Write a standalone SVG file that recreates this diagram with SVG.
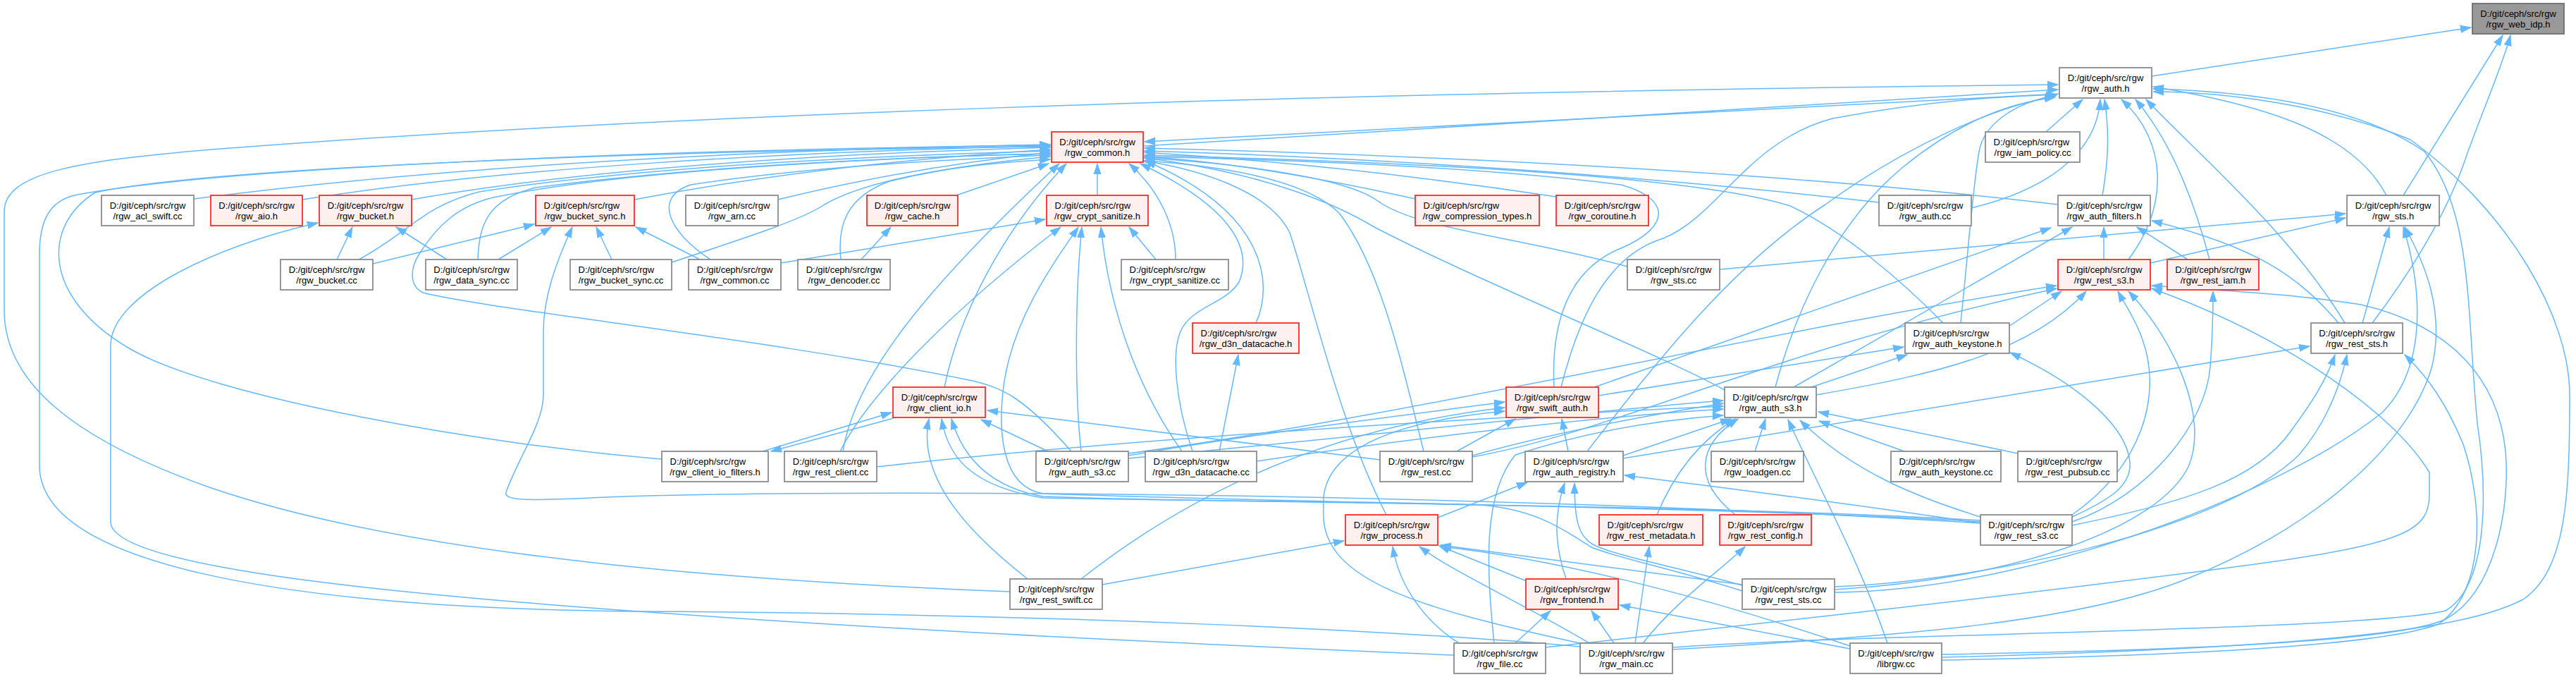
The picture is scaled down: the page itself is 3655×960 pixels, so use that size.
<svg xmlns="http://www.w3.org/2000/svg" width="3655" height="960" viewBox="0 0 3655 960">
<style>
.e{fill:none;stroke:#63b8ff;stroke-width:1.5;marker-end:url(#ah)}
.n rect{fill:#fff;stroke:#8c8c8c;stroke-width:1.8}
.r rect{fill:#fff0f0;stroke:#ff2a2a;stroke-width:1.8}
.g rect{fill:#999;stroke:#6e6e6e;stroke-width:1.8}
text{font-family:"Liberation Sans",Arial,Helvetica,sans-serif;font-size:13px;fill:#000}
.m{text-anchor:middle}
</style>
<defs>
<marker id="ah" markerUnits="userSpaceOnUse" markerWidth="16" markerHeight="12" refX="15" refY="6" orient="auto">
<path d="M0,1 L15,6 L0,11 z" fill="#63b8ff" stroke="#63b8ff" stroke-width="1"/>
</marker>
</defs>
<rect x="0" y="0" width="3655" height="960" fill="#fff"/>
<g id="edges">
<path class="e" d="M3053,108 L3506,39"/>
<path class="e" d="M3410,277 L3551,50"/>
<path class="e" d="M3366,458 C3440,360 3480,280 3500,220 C3525,150 3550,95 3562,50"/>
<path class="e" d="M1623,207 L2920,127"/>
<path class="e" d="M2922,133 L1624,201"/>
<path class="e" d="M2903,187 L2955,141"/>
<path class="e" d="M2797,295 C2900,270 2975,220 2980,141"/>
<path class="e" d="M2666,287 C2300,245 1900,222 1624,214"/>
<path class="e" d="M2983,277 C2993,220 2992,180 2986,141"/>
<path class="e" d="M2920,290 C2500,240 1950,218 1624,210"/>
<path class="e" d="M3386,277 C3340,190 3220,150 3055,123"/>
<path class="e" d="M3020,368 C3078,290 3075,200 3010,141"/>
<path class="e" d="M2985,368 L2985,322"/>
<path class="e" d="M3051,373 L3328,309"/>
<path class="e" d="M3135,368 C3112,280 3080,200 3030,141"/>
<path class="e" d="M3104,368 L3032,322"/>
<path class="e" d="M275,282 C600,240 1000,214 1490,205"/>
<path class="e" d="M429,283 C700,240 1100,215 1490,207"/>
<path class="e" d="M584,283 C800,245 1100,220 1490,209"/>
<path class="e" d="M900,283 C1100,245 1300,224 1490,212"/>
<path class="e" d="M1104,283 C1250,247 1380,228 1490,216"/>
<path class="e" d="M1357,277 L1488,232"/>
<path class="e" d="M1557,277 L1557,232"/>
<path class="e" d="M2008,282 C1850,247 1720,228 1624,222"/>
<path class="e" d="M2208,279 C1950,240 1750,224 1624,216"/>
<path class="e" d="M478,368 L500,322"/>
<path class="e" d="M529,374 L758,318"/>
<path class="e" d="M509,368 C580,330 600,292 680,272 C900,238 1200,222 1490,214"/>
<path class="e" d="M634,368 L562,322"/>
<path class="e" d="M707,368 L782,322"/>
<path class="e" d="M678,368 C680,320 690,283 760,266 C1000,234 1300,222 1490,218"/>
<path class="e" d="M868,368 L846,322"/>
<path class="e" d="M953,372 C1080,330 1140,310 1170,290 C1230,255 1350,235 1490,222"/>
<path class="e" d="M1008,368 C950,330 925,280 980,262 C1150,236 1350,226 1490,220"/>
<path class="e" d="M993,368 L902,322"/>
<path class="e" d="M1108,373 L1483,311"/>
<path class="e" d="M1222,368 L1264,322"/>
<path class="e" d="M1193,368 C1188,320 1200,280 1262,257 C1350,236 1420,230 1490,226"/>
<path class="e" d="M1640,368 L1602,322"/>
<path class="e" d="M1668,368 C1668,320 1645,270 1602,232"/>
<path class="e" d="M2440,382 L3328,303"/>
<path class="e" d="M2309,378 C2150,335 2010,325 1955,285 C1910,252 1760,232 1624,224"/>
<path class="e" d="M1782,458 C1808,400 1795,300 1625,228"/>
<path class="e" d="M2782,458 C2795,330 2800,260 2808,215 C2815,175 2860,145 2918,135"/>
<path class="e" d="M2850,463 L2925,413"/>
<path class="e" d="M2757,458 C2700,400 2620,330 2540,292 C2400,248 2000,230 1624,220"/>
<path class="e" d="M3327,458 C3250,330 3120,220 3045,141"/>
<path class="e" d="M3318,458 C3260,390 3200,350 3053,313"/>
<path class="e" d="M3352,458 L3390,322"/>
<path class="e" d="M1340,549 C1360,450 1420,330 1513,232"/>
<path class="e" d="M1082,640 L1265,585"/>
<path class="e" d="M1268,593 L1094,640"/>
<path class="e" d="M939,651 C700,632 300,565 180,492 C60,420 60,320 135,273 C300,238 900,214 1490,208"/>
<path class="e" d="M1196,640 C1212,540 1300,420 1503,232"/>
<path class="e" d="M1192,640 C1232,560 1350,440 1505,322"/>
<path class="e" d="M1244,662 C1600,622 2100,592 2445,576"/>
<path class="e" d="M1520,640 C1450,560 1420,550 1380,540 C1100,482 700,440 600,415 C580,405 582,380 595,360 C620,320 650,292 700,280 C900,238 1300,222 1490,218"/>
<path class="e" d="M1534,640 C1525,560 1525,420 1535,322"/>
<path class="e" d="M1487,640 L1392,595"/>
<path class="e" d="M1601,650 C1900,622 2200,588 2445,568"/>
<path class="e" d="M1601,643 C2000,590 2500,470 2918,405"/>
<path class="e" d="M1601,646 C1800,612 2000,588 2135,570"/>
<path class="e" d="M1730,640 L1757,503"/>
<path class="e" d="M1677,640 C1620,560 1575,450 1562,322"/>
<path class="e" d="M1692,640 C1668,570 1662,500 1675,470 C1690,435 1740,430 1758,400 C1775,360 1760,300 1618,232"/>
<path class="e" d="M1783,654 C2000,622 2250,592 2445,580"/>
<path class="e" d="M2205,549 C2200,450 2230,380 2300,352 C2370,322 2372,282 2300,262 C2100,236 1800,226 1624,222"/>
<path class="e" d="M2215,549 C2240,450 2280,362 2360,338 C2440,305 2480,200 2600,168 C2750,140 2850,137 2918,134"/>
<path class="e" d="M2268,561 L2701,492"/>
<path class="e" d="M2262,549 L2910,323"/>
<path class="e" d="M2067,640 L2150,594"/>
<path class="e" d="M2225,640 L2216,594"/>
<path class="e" d="M2252,640 C2330,540 2450,380 2590,290 C2700,210 2830,150 2916,137"/>
<path class="e" d="M2303,650 L3277,491"/>
<path class="e" d="M2246,913 C2000,860 1870,820 1878,720 C1872,650 1950,600 2135,583"/>
<path class="e" d="M1534,821 C1700,690 1900,605 2135,578"/>
<path class="e" d="M2447,553 C2350,500 2100,400 1950,322 C1900,292 1800,246 1624,224"/>
<path class="e" d="M2519,549 C2545,450 2600,320 2700,237 C2780,172 2850,146 2916,138"/>
<path class="e" d="M2545,549 L2940,322"/>
<path class="e" d="M2570,549 L2706,503"/>
<path class="e" d="M2577,560 C2750,530 2880,500 2960,413"/>
<path class="e" d="M2490,640 L2505,594"/>
<path class="e" d="M2351,730 C2380,660 2420,620 2462,594"/>
<path class="e" d="M2462,730 C2400,680 2410,630 2466,594"/>
<path class="e" d="M2303,646 L2456,594"/>
<path class="e" d="M2702,640 L2581,597"/>
<path class="e" d="M2863,643 L2580,584"/>
<path class="e" d="M2810,733 C2720,705 2630,670 2554,596"/>
<path class="e" d="M2678,912 C2640,800 2585,700 2537,595"/>
<path class="e" d="M1967,730 C1900,600 1860,420 1830,330 C1800,270 1700,240 1622,228"/>
<path class="e" d="M2040,734 L2167,684"/>
<path class="e" d="M2020,640 C1990,520 1960,380 1900,302 C1850,252 1720,234 1622,228"/>
<path class="e" d="M1958,652 L1401,582"/>
<path class="e" d="M2089,646 C2200,615 2330,590 2445,572"/>
<path class="e" d="M2089,648 C2300,610 2500,500 2918,409"/>
<path class="e" d="M2166,824 L2042,774"/>
<path class="e" d="M2222,821 C2205,770 2205,730 2220,685"/>
<path class="e" d="M2150,912 L2200,866"/>
<path class="e" d="M2290,912 L2258,866"/>
<path class="e" d="M2070,912 C2020,880 1985,830 1976,775"/>
<path class="e" d="M2255,912 C2150,850 2060,810 2014,775"/>
<path class="e" d="M2472,829 L2044,773"/>
<path class="e" d="M2625,916 C2400,840 2200,792 2044,775"/>
<path class="e" d="M2625,920 L2298,858"/>
<path class="e" d="M2472,830 C2380,804 2290,788 2260,772 C2240,760 2234,740 2234,685"/>
<path class="e" d="M2810,742 C2650,718 2450,692 2305,674"/>
<path class="e" d="M2320,912 L2340,775"/>
<path class="e" d="M2331,912 C2380,850 2440,810 2476,775"/>
<path class="e" d="M2120,912 C2108,800 2105,700 2150,645 C2250,612 2350,596 2445,589"/>
<path class="e" d="M2063,929 C1500,905 1200,888 920,868 C500,838 157,800 157,740 L157,490 C157,420 300,350 451,316"/>
<path class="e" d="M2242,917 C2000,895 1500,870 900,867 C400,862 56,800 56,660 L56,360 C56,300 80,282 110,276 C300,240 900,212 1490,206"/>
<path class="e" d="M1433,839 C1100,826 600,795 300,692 C100,622 6,540 6,440 L6,300 C6,245 110,228 300,212 C900,165 1800,132 2920,120"/>
<path class="e" d="M1458,821 C1380,760 1300,680 1318,594"/>
<path class="e" d="M1564,829 L1907,767"/>
<path class="e" d="M2810,742 C2500,722 2000,704 1500,700 C1200,698 1000,701 920,703 C800,706 712,716 718,698 C735,650 771,600 771,560 L771,470 C771,420 790,370 812,322"/>
<path class="e" d="M2810,738 C2500,718 1800,712 1480,706 C1380,690 1345,650 1336,594"/>
<path class="e" d="M2810,740 C2500,720 1800,712 1480,700 C1420,690 1415,610 1425,540 C1440,450 1490,380 1530,322"/>
<path class="e" d="M2940,733 C2990,710 3025,690 3022,655 C3018,610 2960,550 2852,500"/>
<path class="e" d="M2940,730 C3040,660 3068,560 3040,482 C3030,452 3015,432 3005,413"/>
<path class="e" d="M2940,740 C3050,702 3130,600 3136,520 C3140,470 3140,440 3140,413"/>
<path class="e" d="M2940,745 C3100,712 3200,682 3250,612 C3282,568 3300,540 3313,503"/>
<path class="e" d="M2603,832 C2800,825 3150,755 3262,645 C3300,600 3320,550 3330,503"/>
<path class="e" d="M2603,840 C2900,836 3250,690 3380,585 C3440,525 3440,420 3410,322"/>
<path class="e" d="M2603,836 C2850,822 3060,752 3105,662 C3135,592 3085,482 3020,413"/>
<path class="e" d="M2472,838 C2380,808 2290,790 2258,776 C2220,752 2180,722 2100,716 C1900,710 1700,712 1480,704 C1400,690 1365,645 1350,594"/>
<path class="e" d="M2755,932 C3300,918 3500,892 3580,850 C3642,808 3646,700 3646,560 C3646,450 3560,300 3420,198 C3300,148 3150,130 3055,130"/>
<path class="e" d="M2373,918 C2650,898 3350,895 3470,866 C3530,830 3530,700 3515,600 C3500,450 3510,300 3440,215 C3350,152 3200,130 3055,126"/>
<path class="e" d="M2755,928 C3100,922 3400,910 3470,878 C3540,840 3562,720 3555,640 C3545,540 3480,462 3350,432 C3250,416 3150,412 3053,405"/>
<path class="e" d="M2755,936 C3100,930 3380,915 3460,885 C3525,840 3525,720 3495,630 C3470,570 3445,535 3412,503"/>
<path class="e" d="M2373,921 C2700,902 2950,882 3100,822 C3300,742 3420,622 3450,522 C3470,442 3440,372 3412,322"/>
<path class="e" d="M2193,918 C2500,884 2900,840 3200,800 C3420,770 3447,750 3447,700 L3447,670 C3400,590 3250,480 3053,409"/>
</g>
<g id="rgw_web_idp_h" class="g"><rect x="3508" y="5" width="130" height="43"/><text x="3573" y="23.5" class="m">D:/git/ceph/src/rgw</text><text x="3573" y="38.5" class="m">/rgw_web_idp.h</text></g>
<g id="rgw_auth_h" class="n"><rect x="2922" y="96" width="131" height="43"/><text x="2987.5" y="114.5" class="m">D:/git/ceph/src/rgw</text><text x="2987.5" y="129.5" class="m">/rgw_auth.h</text></g>
<g id="rgw_common_h" class="r"><rect x="1492" y="187" width="130" height="43"/><text x="1557" y="205.5" class="m">D:/git/ceph/src/rgw</text><text x="1557" y="220.5" class="m">/rgw_common.h</text></g>
<g id="rgw_iam_policy_cc" class="n"><rect x="2817" y="187" width="134" height="43"/><text x="2828.5" y="205.5">D:/git/ceph/src/rgw</text><text x="2884" y="220.5" class="m">/rgw_iam_policy.cc</text></g>
<g id="rgw_acl_swift_cc" class="n"><rect x="144" y="277" width="131" height="43"/><text x="209.5" y="295.5" class="m">D:/git/ceph/src/rgw</text><text x="209.5" y="310.5" class="m">/rgw_acl_swift.cc</text></g>
<g id="rgw_aio_h" class="r"><rect x="299" y="277" width="130" height="43"/><text x="364" y="295.5" class="m">D:/git/ceph/src/rgw</text><text x="364" y="310.5" class="m">/rgw_aio.h</text></g>
<g id="rgw_bucket_h" class="r"><rect x="453" y="277" width="131" height="43"/><text x="518.5" y="295.5" class="m">D:/git/ceph/src/rgw</text><text x="518.5" y="310.5" class="m">/rgw_bucket.h</text></g>
<g id="rgw_bucket_sync_h" class="r"><rect x="760" y="277" width="140" height="43"/><text x="771.5" y="295.5">D:/git/ceph/src/rgw</text><text x="830" y="310.5" class="m">/rgw_bucket_sync.h</text></g>
<g id="rgw_arn_cc" class="n"><rect x="973" y="277" width="131" height="43"/><text x="1038.5" y="295.5" class="m">D:/git/ceph/src/rgw</text><text x="1038.5" y="310.5" class="m">/rgw_arn.cc</text></g>
<g id="rgw_cache_h" class="r"><rect x="1230" y="277" width="129" height="43"/><text x="1294.5" y="295.5" class="m">D:/git/ceph/src/rgw</text><text x="1294.5" y="310.5" class="m">/rgw_cache.h</text></g>
<g id="rgw_crypt_sanitize_h" class="r"><rect x="1485" y="277" width="144" height="43"/><text x="1496.5" y="295.5">D:/git/ceph/src/rgw</text><text x="1557" y="310.5" class="m">/rgw_crypt_sanitize.h</text></g>
<g id="rgw_compression_types_h" class="r"><rect x="2008" y="277" width="176" height="43"/><text x="2019.5" y="295.5">D:/git/ceph/src/rgw</text><text x="2096" y="310.5" class="m">/rgw_compression_types.h</text></g>
<g id="rgw_coroutine_h" class="r"><rect x="2208" y="277" width="131" height="43"/><text x="2273.5" y="295.5" class="m">D:/git/ceph/src/rgw</text><text x="2273.5" y="310.5" class="m">/rgw_coroutine.h</text></g>
<g id="rgw_auth_cc" class="n"><rect x="2666" y="277" width="131" height="43"/><text x="2731.5" y="295.5" class="m">D:/git/ceph/src/rgw</text><text x="2731.5" y="310.5" class="m">/rgw_auth.cc</text></g>
<g id="rgw_auth_filters_h" class="n"><rect x="2920" y="277" width="131" height="43"/><text x="2985.5" y="295.5" class="m">D:/git/ceph/src/rgw</text><text x="2985.5" y="310.5" class="m">/rgw_auth_filters.h</text></g>
<g id="rgw_sts_h" class="n"><rect x="3330" y="277" width="131" height="43"/><text x="3395.5" y="295.5" class="m">D:/git/ceph/src/rgw</text><text x="3395.5" y="310.5" class="m">/rgw_sts.h</text></g>
<g id="rgw_bucket_cc" class="n"><rect x="398" y="368" width="131" height="43"/><text x="463.5" y="386.5" class="m">D:/git/ceph/src/rgw</text><text x="463.5" y="401.5" class="m">/rgw_bucket.cc</text></g>
<g id="rgw_data_sync_cc" class="n"><rect x="604" y="368" width="130" height="43"/><text x="669" y="386.5" class="m">D:/git/ceph/src/rgw</text><text x="669" y="401.5" class="m">/rgw_data_sync.cc</text></g>
<g id="rgw_bucket_sync_cc" class="n"><rect x="809" y="368" width="144" height="43"/><text x="820.5" y="386.5">D:/git/ceph/src/rgw</text><text x="881" y="401.5" class="m">/rgw_bucket_sync.cc</text></g>
<g id="rgw_common_cc" class="n"><rect x="977" y="368" width="131" height="43"/><text x="1042.5" y="386.5" class="m">D:/git/ceph/src/rgw</text><text x="1042.5" y="401.5" class="m">/rgw_common.cc</text></g>
<g id="rgw_dencoder_cc" class="n"><rect x="1132" y="368" width="131" height="43"/><text x="1197.5" y="386.5" class="m">D:/git/ceph/src/rgw</text><text x="1197.5" y="401.5" class="m">/rgw_dencoder.cc</text></g>
<g id="rgw_crypt_sanitize_cc" class="n"><rect x="1591" y="368" width="152" height="43"/><text x="1602.5" y="386.5">D:/git/ceph/src/rgw</text><text x="1667" y="401.5" class="m">/rgw_crypt_sanitize.cc</text></g>
<g id="rgw_sts_cc" class="n"><rect x="2309" y="368" width="131" height="43"/><text x="2374.5" y="386.5" class="m">D:/git/ceph/src/rgw</text><text x="2374.5" y="401.5" class="m">/rgw_sts.cc</text></g>
<g id="rgw_rest_s3_h" class="r"><rect x="2920" y="368" width="131" height="43"/><text x="2985.5" y="386.5" class="m">D:/git/ceph/src/rgw</text><text x="2985.5" y="401.5" class="m">/rgw_rest_s3.h</text></g>
<g id="rgw_rest_iam_h" class="r"><rect x="3075" y="368" width="130" height="43"/><text x="3140" y="386.5" class="m">D:/git/ceph/src/rgw</text><text x="3140" y="401.5" class="m">/rgw_rest_iam.h</text></g>
<g id="rgw_d3n_datacache_h" class="r"><rect x="1692" y="458" width="151" height="43"/><text x="1703.5" y="476.5">D:/git/ceph/src/rgw</text><text x="1767.5" y="491.5" class="m">/rgw_d3n_datacache.h</text></g>
<g id="rgw_auth_keystone_h" class="n"><rect x="2703" y="458" width="148" height="43"/><text x="2714.5" y="476.5">D:/git/ceph/src/rgw</text><text x="2777" y="491.5" class="m">/rgw_auth_keystone.h</text></g>
<g id="rgw_rest_sts_h" class="n"><rect x="3279" y="458" width="130" height="43"/><text x="3344" y="476.5" class="m">D:/git/ceph/src/rgw</text><text x="3344" y="491.5" class="m">/rgw_rest_sts.h</text></g>
<g id="rgw_client_io_h" class="r"><rect x="1267" y="549" width="131" height="43"/><text x="1332.5" y="567.5" class="m">D:/git/ceph/src/rgw</text><text x="1332.5" y="582.5" class="m">/rgw_client_io.h</text></g>
<g id="rgw_swift_auth_h" class="r"><rect x="2137" y="549" width="131" height="43"/><text x="2202.5" y="567.5" class="m">D:/git/ceph/src/rgw</text><text x="2202.5" y="582.5" class="m">/rgw_swift_auth.h</text></g>
<g id="rgw_auth_s3_h" class="n"><rect x="2447" y="549" width="130" height="43"/><text x="2512" y="567.5" class="m">D:/git/ceph/src/rgw</text><text x="2512" y="582.5" class="m">/rgw_auth_s3.h</text></g>
<g id="rgw_client_io_filters_h" class="n"><rect x="939" y="640" width="151" height="43"/><text x="950.5" y="658.5">D:/git/ceph/src/rgw</text><text x="1014.5" y="673.5" class="m">/rgw_client_io_filters.h</text></g>
<g id="rgw_rest_client_cc" class="n"><rect x="1113" y="640" width="131" height="43"/><text x="1178.5" y="658.5" class="m">D:/git/ceph/src/rgw</text><text x="1178.5" y="673.5" class="m">/rgw_rest_client.cc</text></g>
<g id="rgw_auth_s3_cc" class="n"><rect x="1470" y="640" width="131" height="43"/><text x="1535.5" y="658.5" class="m">D:/git/ceph/src/rgw</text><text x="1535.5" y="673.5" class="m">/rgw_auth_s3.cc</text></g>
<g id="rgw_d3n_datacache_cc" class="n"><rect x="1625" y="640" width="158" height="43"/><text x="1636.5" y="658.5">D:/git/ceph/src/rgw</text><text x="1704" y="673.5" class="m">/rgw_d3n_datacache.cc</text></g>
<g id="rgw_rest_cc" class="n"><rect x="1958" y="640" width="131" height="43"/><text x="2023.5" y="658.5" class="m">D:/git/ceph/src/rgw</text><text x="2023.5" y="673.5" class="m">/rgw_rest.cc</text></g>
<g id="rgw_auth_registry_h" class="n"><rect x="2164" y="640" width="139" height="43"/><text x="2175.5" y="658.5">D:/git/ceph/src/rgw</text><text x="2233.5" y="673.5" class="m">/rgw_auth_registry.h</text></g>
<g id="rgw_loadgen_cc" class="n"><rect x="2428" y="640" width="131" height="43"/><text x="2493.5" y="658.5" class="m">D:/git/ceph/src/rgw</text><text x="2493.5" y="673.5" class="m">/rgw_loadgen.cc</text></g>
<g id="rgw_auth_keystone_cc" class="n"><rect x="2683" y="640" width="156" height="43"/><text x="2694.5" y="658.5">D:/git/ceph/src/rgw</text><text x="2761" y="673.5" class="m">/rgw_auth_keystone.cc</text></g>
<g id="rgw_rest_pubsub_cc" class="n"><rect x="2863" y="640" width="141" height="43"/><text x="2874.5" y="658.5">D:/git/ceph/src/rgw</text><text x="2933.5" y="673.5" class="m">/rgw_rest_pubsub.cc</text></g>
<g id="rgw_process_h" class="r"><rect x="1909" y="730" width="131" height="43"/><text x="1974.5" y="748.5" class="m">D:/git/ceph/src/rgw</text><text x="1974.5" y="763.5" class="m">/rgw_process.h</text></g>
<g id="rgw_rest_metadata_h" class="r"><rect x="2269" y="730" width="147" height="43"/><text x="2280.5" y="748.5">D:/git/ceph/src/rgw</text><text x="2342.5" y="763.5" class="m">/rgw_rest_metadata.h</text></g>
<g id="rgw_rest_config_h" class="r"><rect x="2440" y="730" width="130" height="43"/><text x="2505" y="748.5" class="m">D:/git/ceph/src/rgw</text><text x="2505" y="763.5" class="m">/rgw_rest_config.h</text></g>
<g id="rgw_rest_s3_cc" class="n"><rect x="2810" y="730" width="130" height="43"/><text x="2875" y="748.5" class="m">D:/git/ceph/src/rgw</text><text x="2875" y="763.5" class="m">/rgw_rest_s3.cc</text></g>
<g id="rgw_rest_swift_cc" class="n"><rect x="1433" y="821" width="131" height="43"/><text x="1498.5" y="839.5" class="m">D:/git/ceph/src/rgw</text><text x="1498.5" y="854.5" class="m">/rgw_rest_swift.cc</text></g>
<g id="rgw_frontend_h" class="r"><rect x="2165" y="821" width="131" height="43"/><text x="2230.5" y="839.5" class="m">D:/git/ceph/src/rgw</text><text x="2230.5" y="854.5" class="m">/rgw_frontend.h</text></g>
<g id="rgw_rest_sts_cc" class="n"><rect x="2472" y="821" width="131" height="43"/><text x="2537.5" y="839.5" class="m">D:/git/ceph/src/rgw</text><text x="2537.5" y="854.5" class="m">/rgw_rest_sts.cc</text></g>
<g id="rgw_file_cc" class="n"><rect x="2063" y="912" width="130" height="43"/><text x="2128" y="930.5" class="m">D:/git/ceph/src/rgw</text><text x="2128" y="945.5" class="m">/rgw_file.cc</text></g>
<g id="rgw_main_cc" class="n"><rect x="2242" y="912" width="131" height="43"/><text x="2307.5" y="930.5" class="m">D:/git/ceph/src/rgw</text><text x="2307.5" y="945.5" class="m">/rgw_main.cc</text></g>
<g id="librgw_cc" class="n"><rect x="2625" y="912" width="130" height="43"/><text x="2690" y="930.5" class="m">D:/git/ceph/src/rgw</text><text x="2690" y="945.5" class="m">/librgw.cc</text></g>
</svg>
